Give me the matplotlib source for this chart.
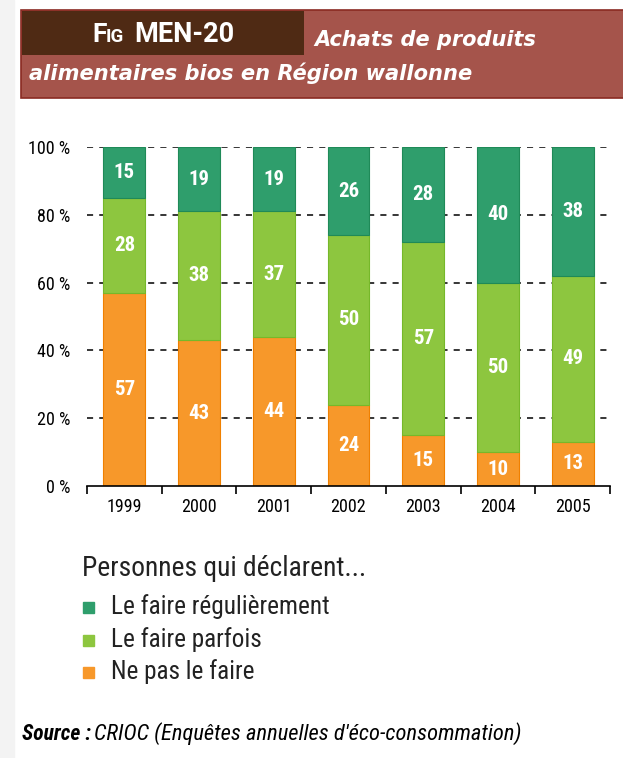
import matplotlib.pyplot as plt
from matplotlib import font_manager as fm
from matplotlib.patches import Rectangle
import numpy as np

# données
annees = ['1999', '2000', '2001', '2002', '2003', '2004', '2005']
ne_pas = [57, 43, 44, 24, 15, 10, 13]
parfois = [28, 38, 37, 50, 57, 50, 49]
regulier = [15, 19, 19, 26, 28, 40, 38]
yticks = [0, 20, 40, 60, 80, 100]
ylabels = ['0 %', '20 %', '40 %', '60 %', '80 %', '100 %']

c_reg = '#2f9e6c'
c_parf = '#8dc63f'
c_non = '#f7982a'

# police étroite si dispo
noms = {f.name for f in fm.fontManager.ttflist}
police = 'DejaVu Sans'
for n in ['Roboto Condensed', 'Liberation Sans Narrow', 'DejaVu Sans Condensed']:
    if n in noms:
        police = n
        break
plt.rcParams['font.family'] = [police, 'DejaVu Sans']

W, H = 623, 758
fig = plt.figure(figsize=(W / 100, H / 100), dpi=100)

def fx(x):
    return x / W

def fy(y):
    return 1 - y / H

# bande grise à gauche
fig.patches.append(Rectangle((0, 0), fx(14), 1, transform=fig.transFigure,
                             color='#f3f3f3', zorder=0))

# bandeau titre
fig.patches.append(Rectangle((fx(21), fy(98)), fx(603), fy(10) - fy(98), transform=fig.transFigure,
                             facecolor='#a5544b', edgecolor='#8a2a22', lw=1.2, zorder=1))
fig.patches.append(Rectangle((fx(22), fy(55)), fx(282), fy(11) - fy(55), transform=fig.transFigure,
                             facecolor='#4f2a14', edgecolor='none', zorder=2))
entete_f = ['Roboto', 'DejaVu Sans']
fig.text(fx(92), fy(42), 'F', color='white', fontsize=19, fontweight='bold', family=entete_f, zorder=3)
fig.text(fx(106), fy(42), 'IG', color='white', fontsize=13.5, fontweight='bold', family=entete_f, zorder=3)
fig.text(fx(134), fy(42), 'MEN-20', color='white', fontsize=19.5, fontweight='bold', family=entete_f,
         zorder=3)
titre_f = ['DejaVu Sans']
fig.text(fx(314), fy(46), 'Achats de produits', color='white', fontsize=15, family=titre_f,
         fontweight='bold', style='italic', zorder=3)
fig.text(fx(29), fy(80), 'alimentaires bios en Région wallonne', color='white', fontsize=15.1,
         family=titre_f, fontweight='bold', style='italic', zorder=3)

ax = fig.add_axes([fx(87), fy(486), fx(610) - fx(87), fy(147) - fy(486)])
x = np.arange(len(annees))
larg = 0.56
b1 = ax.bar(x, ne_pas, larg, color=c_non, edgecolor='#f08000', lw=0.8, zorder=2)
b2 = ax.bar(x, parfois, larg, bottom=ne_pas, color=c_parf, edgecolor='#76b82a', lw=0.8, zorder=2)
bas3 = [a + b for a, b in zip(ne_pas, parfois)]
b3 = ax.bar(x, regulier, larg, bottom=bas3, color=c_reg, edgecolor='#1f8a58', lw=0.8, zorder=2)

for vals, bas in [(ne_pas, [0] * 7), (parfois, ne_pas), (regulier, bas3)]:
    for i, (v, b) in enumerate(zip(vals, bas)):
        ax.text(x[i], b + v / 2, str(v), ha='center', va='center', color='white',
                fontsize=15, fontweight='bold', zorder=4)

for t in yticks[1:]:
    ax.axhline(t, color='black', ls=(0, (4, 4)), lw=1.1, zorder=1)

ax.set_xlim(-0.5, len(annees) - 0.5)
ax.set_ylim(0, 100)
ax.set_yticks(yticks)
ax.set_yticklabels(ylabels, fontsize=13)
ax.tick_params(axis='y', length=0, pad=12)
ax.set_xticks(x)
ax.set_xticklabels(annees, fontsize=13)
ax.set_xticks(np.arange(-0.5, len(annees)), minor=True)
ax.tick_params(axis='x', which='major', length=0, pad=9)
ax.tick_params(axis='x', which='minor', length=6, width=1.2, direction='out')
for s in ['top', 'right', 'left']:
    ax.spines[s].set_visible(False)
ax.spines['bottom'].set_linewidth(1.2)
ax.spines['bottom'].set_zorder(5)

# légende
fig.text(fx(82), fy(568), 'Personnes qui déclarent...', fontsize=19.8, va='center', color='#222222')
items = [('Le faire régulièrement', c_reg), ('Le faire parfois', c_parf), ('Ne pas le faire', c_non)]
for k, (lab, col) in enumerate(items):
    y = 607 + 32.5 * k
    fig.patches.append(Rectangle((fx(83), fy(y + 6)), fx(11), fy(y - 5) - fy(y + 6),
                                 transform=fig.transFigure, color=col))
    fig.text(fx(111), fy(y), lab, fontsize=18.2, va='center', color='#222222')

fig.text(fx(22), fy(734), 'Source :', fontsize=15.5, fontweight='bold', style='italic', va='center')
fig.text(fx(94), fy(734), 'CRIOC (Enquêtes annuelles d\'éco-consommation)', fontsize=16.2,
         style='italic', va='center')

fig.savefig('out.png', dpi=100, facecolor='white')
